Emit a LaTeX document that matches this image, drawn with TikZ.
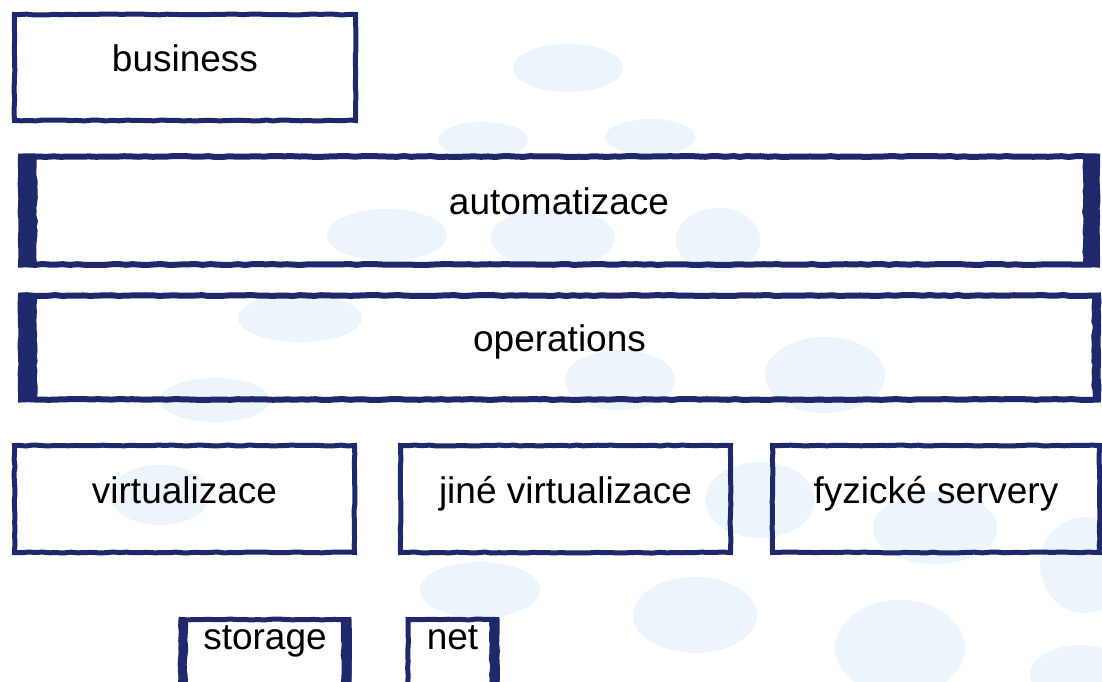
\documentclass[tikz,border=0pt]{standalone}
\usepackage{fontspec}
\setmainfont{Liberation Sans}
\usetikzlibrary{decorations.pathmorphing}
\definecolor{ink}{RGB}{30,40,106}
\definecolor{dot}{RGB}{236,245,251}

\begin{document}
\begin{tikzpicture}[x=1pt,y=-1pt]
        \tikzstyle{every node}=[font=\fontsize{37}{44}\selectfont, text height=26pt, text depth=18pt, inner sep=0pt, outer sep=0pt]
        \tikzstyle{box}=[draw=ink, line width=5pt, decorate, decoration={random steps, segment length=7pt, amplitude=0.5pt}]
        \tikzstyle{edge}=[draw=ink, line width=16pt, decorate, decoration={random steps, segment length=5pt, amplitude=0.8pt}]

        \pgfmathsetseed{42}
        \useasboundingbox (0,0) rectangle (1102,681);
        \clip (0,0) rectangle (1102,681);
        \fill[white] (0,0) rectangle (1102,681);

        % spots in the background
        \foreach \cx / \cy / \rx / \ry in {568/68/55/24, 650/137/45/18, 483/140/45/18, 387/235/60/26, 553/238/62/30,
                718/240/42/32, 300/318/62/24, 215/400/55/22, 825/375/60/38, 620/380/55/30, 760/500/55/38,
                935/528/62/36, 1085/565/45/48, 695/615/62/38, 900/648/65/48, 1080/675/50/30, 480/590/60/28, 160/495/50/30} {
            \fill[dot] (\cx,\cy) ellipse [x radius=\rx, y radius=\ry];
        }

        \node[box, minimum width=341, minimum height=106] (biz) at (185,67.5) {business};
        \node[box, line width=6pt, minimum width=1076, minimum height=108] (auto) at (559,210.5) {automatizace};
        \node[box, line width=6pt, minimum width=1077, minimum height=104] (ops) at (559.5,347.5) {operations};

        \node[box, minimum width=340, minimum height=107] (virt) at (184.5,499) {virtualizace};
        \node[box, minimum width=330, minimum height=107] (jine) at (565.5,499) {jiné virtualizace};
        \node[box, minimum width=327, minimum height=107] (fyz) at (936,499) {fyzické servery};

        \node[box, anchor=north, minimum width=168, text depth=60pt, inner ysep=4pt] (stor) at (265,619.5) {storage};
        \node[box, anchor=north, minimum width=89, text depth=60pt, inner ysep=4pt] (net) at (452.5,619.5) {net};

        % heavy brush strokes
        \foreach \n in {auto,ops} {
            \draw[edge] ([xshift=8]\n.north west) -- ([xshift=8]\n.south west);
        }
        \draw[edge] ([xshift=-6]auto.north east) -- ([xshift=-6]auto.south east);
        \draw[edge, line width=8pt] ([xshift=-2]ops.north east) -- ([xshift=-2]ops.south east);
        \draw[edge, line width=9pt] ([xshift=2]stor.north west) -- ([xshift=2]stor.south west);
        \draw[edge, line width=10pt] ([xshift=-3]stor.north east) -- ([xshift=-3]stor.south east);
        \draw[edge, line width=9pt] ([xshift=-3]net.north east) -- ([xshift=-3]net.south east);

    \end{tikzpicture}
\end{document}
